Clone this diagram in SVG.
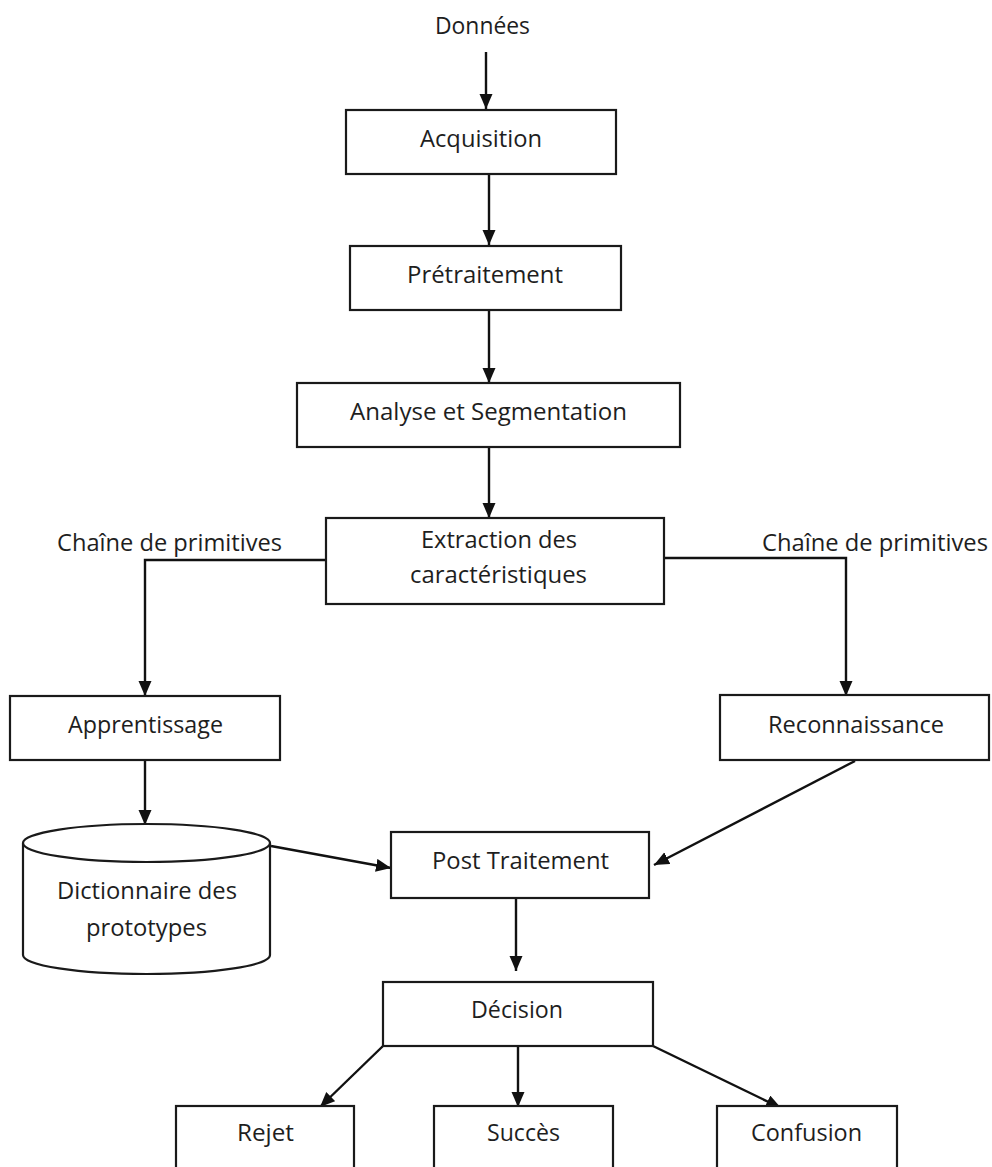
<svg xmlns="http://www.w3.org/2000/svg" width="992" height="1167" viewBox="0 0 992 1167">
  <style>
    .box { fill: #ffffff; stroke: #1a1a1a; stroke-width: 2.2; }
    .lbl { font-family: "Open Sans", "Noto Sans", sans-serif; font-size: 24px; fill: #1e1e1e; }
    .edge { fill: none; stroke: #111111; stroke-width: 2.4; }
    .arrow { marker-end: url(#head); }
  </style>
  <defs>
    <marker id="head" markerUnits="userSpaceOnUse" markerWidth="16" markerHeight="14" refX="15" refY="6.5" orient="auto">
      <path d="M0,0 L15,6.5 L0,13 Z" fill="#111111"/>
    </marker>
  </defs>
  <rect x="0" y="0" width="992" height="1167" fill="#ffffff"/>

  <!-- connectors -->
  <g id="connectors">
    <line class="edge arrow" x1="486" y1="52" x2="486" y2="109"/>
    <line class="edge arrow" x1="489" y1="175" x2="489" y2="245"/>
    <line class="edge arrow" x1="489" y1="311" x2="489" y2="383"/>
    <line class="edge arrow" x1="489" y1="447" x2="489" y2="518"/>
    <path class="edge arrow" d="M326,560 H145 V696"/>
    <path class="edge arrow" d="M664,558 H846 V696"/>
    <line class="edge arrow" x1="145" y1="760" x2="145" y2="825"/>
    <line class="edge arrow" x1="271" y1="846" x2="391" y2="868"/>
    <line class="edge arrow" x1="855" y1="761" x2="654" y2="865"/>
    <line class="edge arrow" x1="516" y1="898" x2="516" y2="971"/>
    <line class="edge arrow" x1="383" y1="1046" x2="320" y2="1107"/>
    <line class="edge arrow" x1="518" y1="1046" x2="518" y2="1107"/>
    <line class="edge arrow" x1="653" y1="1046" x2="781" y2="1108"/>
  </g>

  <!-- input label -->
  <g id="donnees">
    <text class="lbl" x="435" y="34" textLength="95" lengthAdjust="spacingAndGlyphs">Données</text>
  </g>

  <g id="acquisition">
    <rect class="box" x="346" y="110" width="270" height="64"/>
    <text class="lbl" x="420" y="147" textLength="122" lengthAdjust="spacingAndGlyphs">Acquisition</text>
  </g>

  <g id="pretraitement">
    <rect class="box" x="350" y="246" width="271" height="64"/>
    <text class="lbl" x="407" y="283" textLength="156" lengthAdjust="spacingAndGlyphs">Prétraitement</text>
  </g>

  <g id="analyse">
    <rect class="box" x="297" y="383" width="383" height="64"/>
    <text class="lbl" x="350" y="420" textLength="277" lengthAdjust="spacingAndGlyphs">Analyse et Segmentation</text>
  </g>

  <g id="extraction">
    <rect class="box" x="326" y="518" width="338" height="86"/>
    <text class="lbl" x="421" y="548" textLength="156" lengthAdjust="spacingAndGlyphs">Extraction des</text>
    <text class="lbl" x="410" y="583" textLength="177" lengthAdjust="spacingAndGlyphs">caractéristiques</text>
  </g>

  <g id="label-left">
    <text class="lbl" x="57" y="551" textLength="225" lengthAdjust="spacingAndGlyphs">Chaîne de primitives</text>
  </g>
  <g id="label-right">
    <text class="lbl" x="762" y="551" textLength="226" lengthAdjust="spacingAndGlyphs">Chaîne de primitives</text>
  </g>

  <g id="apprentissage">
    <rect class="box" x="10" y="696" width="270" height="64"/>
    <text class="lbl" x="68" y="733" textLength="155" lengthAdjust="spacingAndGlyphs">Apprentissage</text>
  </g>

  <g id="reconnaissance">
    <rect class="box" x="720" y="695" width="269" height="65"/>
    <text class="lbl" x="768" y="733" textLength="176" lengthAdjust="spacingAndGlyphs">Reconnaissance</text>
  </g>

  <!-- prototype store drawn as a cylinder -->
  <g id="dictionnaire">
    <path class="box" d="M23,843 A123.5,19 0 0 1 270,843 L270,955 A123.5,19 0 0 1 23,955 Z"/>
    <path class="box" fill="none" d="M23,843 A123.5,19 0 0 0 270,843"/>
    <text class="lbl" x="57" y="899" textLength="180" lengthAdjust="spacingAndGlyphs">Dictionnaire des</text>
    <text class="lbl" x="86" y="936" textLength="121" lengthAdjust="spacingAndGlyphs">prototypes</text>
  </g>

  <g id="post-traitement">
    <rect class="box" x="391" y="832" width="258" height="66"/>
    <text class="lbl" x="432" y="869" textLength="177" lengthAdjust="spacingAndGlyphs">Post Traitement</text>
  </g>

  <g id="decision">
    <rect class="box" x="383" y="982" width="270" height="64"/>
    <text class="lbl" x="471" y="1018" textLength="92" lengthAdjust="spacingAndGlyphs">Décision</text>
  </g>

  <g id="rejet">
    <rect class="box" x="176" y="1106" width="178" height="90"/>
    <text class="lbl" x="237" y="1141" textLength="57" lengthAdjust="spacingAndGlyphs">Rejet</text>
  </g>

  <g id="succes">
    <rect class="box" x="434" y="1106" width="179" height="90"/>
    <text class="lbl" x="487" y="1141" textLength="73" lengthAdjust="spacingAndGlyphs">Succès</text>
  </g>

  <g id="confusion">
    <rect class="box" x="717" y="1106" width="180" height="90"/>
    <text class="lbl" x="751" y="1141" textLength="111" lengthAdjust="spacingAndGlyphs">Confusion</text>
  </g>
</svg>
